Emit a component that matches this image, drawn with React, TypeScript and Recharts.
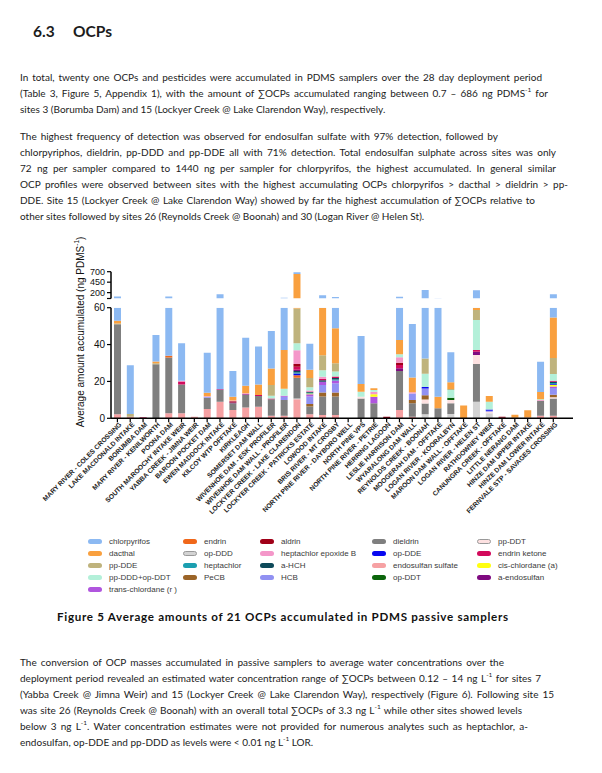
import React from "react";
import { BarChart, Bar, XAxis, YAxis } from "recharts";

const sites = [
  "MARY RIVER - COLES CROSSING",
  "LAKE MACDONALD INTAKE",
  "BORUMBA DAM",
  "MARY RIVER - KENILWORTH",
  "POONA DAM",
  "SOUTH MAROOCHY INTAKE WEIR",
  "YABBA CREEK - JIMNA WEIR",
  "BAROON POCKET DAM",
  "EWEN MADDOCK INTAKE",
  "KILCOY WTP OFFTAKE",
  "KIRKLEAGH",
  "SOMERSET DAM WALL",
  "WIVENHOE DAM - ESK PROFILER",
  "WIVENHOE DAM WALL - PROFILER",
  "LOCKYER CREEK - LAKE CLARENDON",
  "LOCKYER CREEK - PATRICKS ESTATE",
  "LOWOOD INTAKE",
  "BRIS RIVER - MT CROSBY",
  "NORTH PINE RIVER - DAYBORO WELL",
  "NORTH PINE VPS",
  "NORTH PINE RIVER - PETRIE",
  "HERRING LAGOON",
  "LESLIE HARRISON DAM",
  "WYARALONG DAM WALL",
  "REYNOLDS CREEK - BOONAH",
  "MOOGERAH DAM - OFFTAKE",
  "LOGAN RIVER - KOORALBYN",
  "MAROON DAM WALL - OFFTAKE",
  "LOGAN RIVER - HELEN ST",
  "RATHDOWNEY WIER",
  "CANUNGRA CREEK - OFFTAKE",
  "LITTLE NERANG DAM",
  "HINZE DAM UPPER INTAKE",
  "HINZE DAM LOWER INTAKE",
  "FERNVALE STP - SAVAGES CROSSING",
];

// ng per sampler, one value per site (same order as sites)
const endosulfanSulfate = [2.2, 0.8, 0.4, 0, 2.7, 2.7, 0.9, 5, 9, 4.5, 5.8, 6.3, 1.4, 1.4, 10.3, 2.2, 1.8, 1.8, 0, 0, 0, 0, 4.5, 0.8, 0, 0, 0.3, 0.2, 0, 0, 0.3, 0.3, 0.5, 1.4, 1.4];
const opDDD = [0, 0, 0, 0, 0, 0, 0, 0, 0, 0, 0, 0, 0, 0, 0.5, 0, 0, 0, 0, 0, 0, 0, 0, 0, 2.2, 0, 2.0, 0, 9, 2.7, 0, 0, 0, 0, 0];
const dieldrin = [48.8, 0, 0, 29.3, 30.3, 15.7, 0, 6.2, 6.3, 3.6, 6.9, 5.8, 8.9, 8.5, 11.2, 4.2, 10, 10, 0, 10.8, 8.1, 0, 21.2, 7.3, 5.8, 5.4, 5.8, 0, 20.4, 0, 0, 0, 0, 8.1, 9.4];
const ppDDT = [0, 0, 0, 0, 0, 0, 0, 0, 0, 0, 0, 0, 0, 0, 0, 0, 0, 0, 0, 0.9, 0, 0, 0, 0, 2.2, 0, 1.8, 0, 4.9, 0.9, 0, 0, 0, 0, 0.6];
const endrin = [0, 0, 0, 0, 1.0, 0, 0, 0, 0, 0, 0, 0, 0, 0, 1.4, 0, 0, 0, 0, 0, 0, 0, 0, 0, 0, 0, 0, 0, 0, 0, 0, 0, 0, 0, 0];
const opDDT = [0, 0, 0, 0, 0, 0, 0, 0, 0, 0, 0, 0, 0, 0, 0, 0, 0, 0, 0, 0, 0, 0, 0, 0, 0, 0, 1.3, 0, 0, 0, 0, 0, 0, 0, 0];
const pecb = [0, 0, 0, 0, 0, 0, 0, 0, 0, 0, 0, 0, 0, 0, 0, 1.4, 2.2, 2.2, 0, 0, 0, 0, 0, 1.8, 2.3, 0, 0, 0, 0, 0, 0, 0, 0, 0, 1.4];
const hcb = [0, 0, 0, 0, 0, 0, 0, 0.5, 0, 0, 0, 0, 0, 1.8, 0, 4, 4, 5, 0, 0, 0, 0, 0, 3.6, 3.6, 0, 0, 0, 0, 0.5, 0, 0, 0, 0, 3.6];
const transChlordane = [0, 0, 0, 0, 0, 0, 0, 0, 0, 0, 0, 0, 0, 0.5, 0, 1.3, 1.8, 1.5, 0, 0, 3.6, 0, 0, 0, 0, 0, 0, 0, 0, 0, 0, 0, 0, 0, 0.8];
const cisChlordane = [0, 0, 0, 0, 0, 0, 0, 0, 0, 0, 0, 0, 0, 0, 0, 0.3, 0, 0, 0, 0, 1.3, 0, 0, 0, 0, 0, 0, 0, 0, 0, 0, 0, 0, 0, 1.0];
const opDDE = [0, 0, 0, 0, 0, 0, 0, 0, 0, 0, 0, 0, 0, 0, 0.9, 0, 0, 0, 0, 0, 0, 0, 0, 0, 0.9, 0, 0, 0, 0, 0.7, 0, 0, 0, 0, 0.4];
const heptachlor = [0, 0, 0, 0, 0, 0, 0, 0, 0, 0, 0, 0, 0, 0, 0.5, 0.4, 0, 0.6, 0, 0, 0, 0, 0, 0, 0, 0, 0, 0, 0, 0, 0, 0, 0, 0, 0.6];
const aHCH = [0, 0, 0, 0, 0, 0, 0, 0, 0, 0, 0, 0, 0, 0, 0.9, 0.4, 0.8, 0.8, 0, 0, 0, 0, 0, 0, 0, 0, 0, 0, 0, 0, 0, 0, 0, 0, 0.6];
const aEndosulfan = [0, 0, 0, 0, 0, 0, 0, 0, 0, 0.5, 0.4, 0, 0, 0, 0.7, 0, 0, 0, 0, 0, 0, 0, 1.4, 0, 0, 0, 0, 0, 1.8, 0, 0, 0, 0, 0, 0];
const endrinKetone = [0, 0, 0.3, 0, 0, 1.5, 0, 0, 0.5, 0, 0, 0.5, 0.5, 0, 1.5, 0.4, 0.9, 0.8, 0, 0, 0, 0, 1.8, 0, 0, 0, 0, 0, 0.9, 0, 0, 0, 0, 0, 0.6];
const aldrin = [0, 0, 0, 0, 0, 0, 0, 0, 0, 0.7, 0, 0, 0, 0, 1.5, 0, 0, 0, 0, 0, 0, 0.9, 1.3, 0, 0, 0, 0, 0, 0, 0, 0.5, 0, 0, 0, 0];
const heptEpoxideB = [0, 0, 0, 0, 0, 0.5, 0, 0.3, 0, 0.4, 0.5, 0, 0, 0, 7.5, 0.5, 1.0, 0, 0, 0, 1.4, 0, 2.9, 0.6, 0, 0, 0, 0, 0, 0, 0, 0, 0, 0.4, 0];
const ppDDDopDDT = [0, 0, 0, 0, 0, 0, 0, 0, 0, 0, 0, 0, 1.4, 3.8, 3.8, 1.8, 3.6, 2.7, 0, 2.7, 0.9, 0, 1.6, 0, 7.2, 0, 4.2, 0, 16.3, 4.2, 0, 0, 0, 0.4, 3.6];
const ppDDE = [0.4, 1.5, 0, 0.5, 0, 0, 0, 0, 0, 0, 0, 0, 5.8, 0, 18.8, 5, 8.1, 4.5, 0, 0, 0, 0, 0, 0, 8.2, 0, 0.5, 0, 5.4, 0, 0, 0, 0, 0, 8.7];
const dacthal = [1.5, 0, 0, 1.0, 0, 0, 0, 1.8, 0, 2, 4.1, 5.8, 9, 21, 583, 4.5, 25.6, 19, 0, 4.2, 1.0, 0, 7.8, 8, 0, 6.3, 3.6, 6.7, 1.2, 3.1, 0, 1.6, 3.8, 4, 22];
const chlorpyrifos = [57, 26.5, 0, 14.4, 71, 20.3, 0, 21.8, 144, 14, 26, 20.5, 20.3, 43, 43, 14, 75, 48, 0, 26, 0, 0, 62, 29, 228, 53, 16.3, 0, 200, 0, 0, 0, 0, 16.4, 109];

const lowerTicks = [0, 20, 40, 60];
const upperTicks = [60, 200, 450, 700];

// stacked bottom -> top
const series = [
  { key: "endoSulf", name: "endosulfan sulfate", color: "#f6a1a3", values: endosulfanSulfate },
  { key: "opDDD", name: "op-DDD", color: "#d3d3d3", values: opDDD, border: true },
  { key: "dieldrin", name: "dieldrin", color: "#7f7f7f", values: dieldrin },
  { key: "ppDDT", name: "pp-DDT", color: "#fde1e1", values: ppDDT, border: true },
  { key: "endrin", name: "endrin", color: "#f0671a", values: endrin },
  { key: "opDDT", name: "op-DDT", color: "#0b650b", values: opDDT },
  { key: "pecb", name: "PeCB", color: "#9b6428", values: pecb },
  { key: "hcb", name: "HCB", color: "#9191f2", values: hcb },
  { key: "transChl", name: "trans-chlordane (r )", color: "#b055de", values: transChlordane },
  { key: "cisChl", name: "cis-chlordane (a)", color: "#ffff10", values: cisChlordane },
  { key: "opDDE", name: "op-DDE", color: "#0808f0", values: opDDE },
  { key: "heptachlor", name: "heptachlor", color: "#1b9fb0", values: heptachlor },
  { key: "aHCH", name: "a-HCH", color: "#0e4a5a", values: aHCH },
  { key: "aEndo", name: "a-endosulfan", color: "#7f0a80", values: aEndosulfan },
  { key: "endrinKet", name: "endrin ketone", color: "#d20a5c", values: endrinKetone },
  { key: "aldrin", name: "aldrin", color: "#a00018", values: aldrin },
  { key: "heptEpox", name: "heptachlor epoxide B", color: "#f497c9", values: heptEpoxideB },
  { key: "ppDDDopDDT", name: "pp-DDD+op-DDT", color: "#b3f0d9", values: ppDDDopDDT },
  { key: "ppDDE", name: "pp-DDE", color: "#bfb37d", values: ppDDE },
  { key: "dacthal", name: "dacthal", color: "#f9a03f", values: dacthal },
  { key: "chlorpyrifos", name: "chlorpyrifos", color: "#8cb9f2", values: chlorpyrifos },
];

const legendColumns = [
  ["chlorpyrifos", "dacthal", "ppDDE", "ppDDDopDDT", "transChl"],
  ["endrin", "opDDD", "heptachlor", "pecb"],
  ["aldrin", "heptEpox", "aHCH", "hcb"],
  ["dieldrin", "opDDE", "endoSulf", "opDDT"],
  ["ppDDT", "endrinKet", "cisChl", "aEndo"],
];

const data = sites.map((site, i) => {
  const row: Record<string, string | number> = { site };
  series.forEach((s) => {
    row[s.key] = s.values[i];
  });
  return row;
});

const textFont = "Lato, 'Open Sans', sans-serif";
const axisFont = "'Liberation Sans', Arial, sans-serif";

const Sup = ({ children }: { children: React.ReactNode }) => (
  <sup style={{ fontSize: "6.5px", lineHeight: 0, verticalAlign: "5px" }}>{children}</sup>
);

const bodyLines: Array<{ y: number; w?: number; c: React.ReactNode }> = [
  { y: 76.5, w: 522, c: "In total, twenty one OCPs and pesticides were accumulated in PDMS samplers over the 28 day deployment period" },
  { y: 92.5, w: 528, c: <>(Table 3, Figure 5, Appendix 1), with the amount of ∑OCPs accumulated ranging between 0.7 – 686 ng PDMS<Sup>-1</Sup> for</> },
  { y: 108.5, c: "sites 3 (Borumba Dam) and 15 (Lockyer Creek @ Lake Clarendon Way), respectively." },
  { y: 136, w: 478, c: "The highest frequency of detection was observed for endosulfan sulfate with 97% detection, followed by" },
  { y: 152, w: 536, c: "chlorpyriphos, dieldrin, pp-DDD and pp-DDE all with 71% detection. Total endosulfan sulphate across sites was only" },
  { y: 168, w: 536, c: "72 ng per sampler compared to 1440 ng per sampler for chlorpyrifos, the highest accumulated. In general similar" },
  { y: 184, w: 548, c: "OCP profiles were observed between sites with the highest accumulating OCPs chlorpyrifos > dacthal > dieldrin > pp-" },
  { y: 200, w: 515, c: "DDE. Site 15 (Lockyer Creek @ Lake Clarendon Way) showed by far the highest accumulation of ∑OCPs relative to" },
  { y: 216, c: "other sites followed by sites 26 (Reynolds Creek @ Boonah) and 30 (Logan River @ Helen St)." },
  { y: 661.5, w: 484, c: "The conversion of OCP masses accumulated in passive samplers to average water concentrations over the" },
  { y: 677.5, w: 521, c: <>deployment period revealed an estimated water concentration range of ∑OCPs between 0.12 – 14 ng L<Sup>-1</Sup> for sites 7</> },
  { y: 693.5, w: 534, c: "(Yabba Creek @ Jimna Weir) and 15 (Lockyer Creek @ Lake Clarendon Way), respectively (Figure 6). Following site 15" },
  { y: 709.5, w: 502, c: <>was site 26 (Reynolds Creek @ Boonah) with an overall total ∑OCPs of 3.3 ng L<Sup>-1</Sup> while other sites showed levels</> },
  { y: 725.5, w: 508, c: <>below 3 ng L<Sup>-1</Sup>. Water concentration estimates were not provided for numerous analytes such as heptachlor, a-</> },
  { y: 741.5, c: <>endosulfan, op-DDE and pp-DDD as levels were &lt; 0.01 ng L<Sup>-1</Sup> LOR.</> },
];

const SiteTick = (props: any) => {
  const { x, y, payload } = props;
  const px = x + 3;
  const py = y - 1;
  return (
    <text
      x={px}
      y={py}
      transform={`rotate(-45 ${px} ${py})`}
      textAnchor="end"
      dy="0.35em"
      fontSize={6.7}
      fontWeight="bold"
      fontFamily={axisFont}
      fill="#222"
    >
      {payload.value}
    </text>
  );
};

const ValueTick = (props: any) => {
  const { x, y, payload, size, hide } = props;
  if (hide && payload.value === hide) return null;
  return (
    <text x={x} y={y} dy="0.35em" textAnchor="end" fontSize={size} fontFamily={axisFont} fill="#111">
      {payload.value}
    </text>
  );
};

const bars = series.map((s) => (
  <Bar key={s.key} dataKey={s.key} name={s.name} stackId="ocp" fill={s.color} barSize={7} isAnimationActive={false} />
));

const axisLine = { stroke: "#000", strokeWidth: 1.5 };
const tickLine = { stroke: "#000", strokeWidth: 1.2 };

export default function App() {
  return (
    <div style={{ position: "absolute", left: 0, top: 0, width: 602, height: 773, background: "#fff", overflow: "hidden", color: "#1c1c1c", fontFamily: textFont }}>
      <div style={{ position: "absolute", left: 33, top: 22, fontSize: 15.5, fontWeight: 700, lineHeight: "18px" }}>6.3</div>
      <div style={{ position: "absolute", left: 73, top: 22, fontSize: 15.5, fontWeight: 700, lineHeight: "18px" }}>OCPs</div>

      {bodyLines.map((l, i) => (
        <div
          key={i}
          style={{
            position: "absolute",
            left: 20,
            top: l.y - 8,
            width: l.w ?? 560,
            height: 16,
            lineHeight: "16px",
            fontSize: 10,
            textAlign: l.w ? "justify" : "left",
            textAlignLast: l.w ? "justify" : "left",
          }}
        >
          {l.c}
        </div>
      ))}

      <div
        style={{
          position: "absolute",
          left: 80,
          top: 332,
          transform: "translate(-50%, -50%) rotate(-90deg)",
          whiteSpace: "nowrap",
          fontFamily: axisFont,
          fontSize: 10,
          color: "#111",
        }}
      >
        Average amount accumulated (ng PDMS<sup style={{ fontSize: 6.5, lineHeight: 0 }}>-1</sup>)
      </div>

      <div style={{ position: "absolute", left: 0, top: 0 }}>
        <BarChart width={602} height={300} data={data} margin={{ top: 271.7, right: 29, bottom: 1.5, left: 81 }}>
          <XAxis dataKey="site" hide padding={{ left: 0, right: 13.3 }} />
          <YAxis
            type="number"
            domain={[60, 700]}
            ticks={upperTicks}
            interval={0}
            allowDataOverflow
            width={30}
            tickSize={4}
            axisLine={axisLine}
            tickLine={tickLine}
            tick={<ValueTick size={9} hide={60} />}
          />
          {bars}
        </BarChart>
      </div>

      <div style={{ position: "absolute", left: 0, top: 0 }}>
        <BarChart width={602} height={540} data={data} margin={{ top: 307.7, right: 29, bottom: 11.7, left: 81 }}>
          <XAxis
            dataKey="site"
            interval={0}
            height={110}
            padding={{ left: 0, right: 13.3 }}
            tickSize={4}
            axisLine={axisLine}
            tickLine={tickLine}
            tick={<SiteTick />}
          />
          <YAxis
            type="number"
            domain={[0, 60]}
            ticks={lowerTicks}
            interval={0}
            allowDataOverflow
            width={30}
            tickSize={4}
            axisLine={axisLine}
            tickLine={tickLine}
            tick={<ValueTick size={10} />}
          />
          {bars}
        </BarChart>
      </div>

      {legendColumns.map((col, ci) =>
        col.map((key, ri) => {
          const s = series.find((d) => d.key === key)!;
          const left = [88, 183, 260, 372, 477][ci];
          const top = 541 + ri * 12;
          return (
            <div key={key} style={{ position: "absolute", left, top: top - 6, height: 12, display: "flex", alignItems: "center", fontFamily: axisFont, fontSize: 8, color: "#3a3a3a", whiteSpace: "nowrap" }}>
              <span
                style={{
                  display: "inline-block",
                  width: 14,
                  height: 5,
                  borderRadius: 2.5,
                  background: s.color,
                  boxSizing: "border-box",
                  border: s.border ? "0.8px solid #999" : "none",
                  marginRight: 7,
                }}
              />
              {s.name}
            </div>
          );
        })
      )}

      <div
        style={{
          position: "absolute",
          left: 57,
          top: 609,
          lineHeight: "16px",
          fontSize: 11.6,
          letterSpacing: 0.7,
          fontWeight: 700,
          whiteSpace: "nowrap",
          color: "#111",
        }}
      >
        Figure 5 Average amounts of 21 OCPs accumulated in PDMS passive samplers
      </div>
    </div>
  );
}
